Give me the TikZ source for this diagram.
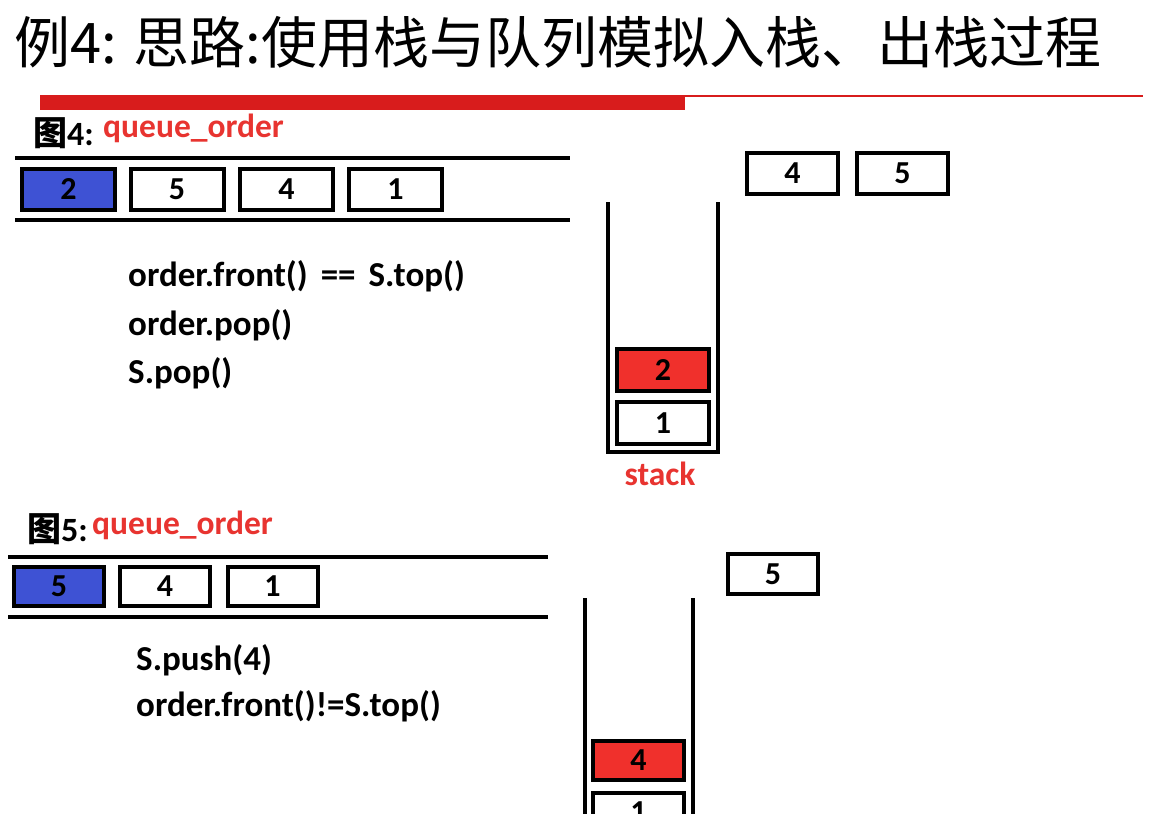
\documentclass[tikz,border=0pt]{standalone}
\usepackage{fontspec}
\setmainfont{Carlito}
\newfontfamily\cjk{Noto Sans CJK SC}
\definecolor{qblue}{RGB}{62,82,212}
\definecolor{sred}{RGB}{240,48,44}
\definecolor{tred}{RGB}{232,52,48}
\definecolor{barred}{RGB}{216,28,28}
\begin{document}
\begin{tikzpicture}[x=1pt,y=-1pt,
  wall/.style={line width=4pt},
  cell/.style={draw=black, line width=4pt, fill=white, inner sep=0pt,
    minimum width=93pt, minimum height=41pt,
    font=\fontsize{32}{32}\selectfont\bfseries},
  qfront/.style={cell, fill=qblue},
  stop/.style={cell, fill=sred},
  code/.style={anchor=base west, inner sep=0pt, font=\fontsize{35}{35}\selectfont\bfseries},
  lbl/.style={anchor=base west, inner sep=0pt, font=\fontsize{34}{34}\selectfont\bfseries},
  rlbl/.style={anchor=base west, inner sep=0pt, text=tred, font=\fontsize{33.5}{33.5}\selectfont\bfseries}
]
\useasboundingbox (0,0) rectangle (1157,814);
\clip (0,0) rectangle (1157,814);
\fill[white] (0,0) rectangle (1157,814);

% title
\node[anchor=base west, inner sep=0pt, font=\cjk\fontsize{56}{56}\selectfont] (title) at (14,63) {例4: 思路:使用栈与队列模拟入栈、出栈过程};
\fill[barred] (40,95) rectangle (685,110);
\draw[barred, line width=1.5pt] (685,96) -- (1143,96);

% ---------- Figure 4 ----------
\node[lbl] (f4) at (33,145) {\cjk 图\normalfont\bfseries 4:};
\node[rlbl] (q4) at (103,137) {queue\_order};
\draw[wall] (15,158) -- (570,158);
\draw[wall] (15,220) -- (570,220);
\node[qfront] (a1) at (68.5,189.5) {2};
\node[cell] (a2) at (177,189.5) {5};
\node[cell] (a3) at (286.5,189.5) {4};
\node[cell] (a4) at (395.5,189.5) {1};

\node[code] (c1) at (128,286) {order.front()\hspace{13pt}==\hspace{13pt}S.top()};
\node[code] (c2) at (128,335) {order.pop()};
\node[code] (c3) at (128,383) {S.pop()};

\draw[wall] (608,202) -- (608,452) -- (718,452) -- (718,202);
\node[stop, minimum width=92pt, minimum height=42pt] (s2) at (663,370) {2};
\node[cell, minimum width=92pt, minimum height=42pt] (s1) at (663,423) {1};
\node[rlbl, anchor=base] (st) at (660,485) {stack};

\node[cell, minimum width=91pt] (w4) at (792.5,173.5) {4};
\node[cell, minimum width=91pt] (w5) at (902.5,173.5) {5};

% ---------- Figure 5 ----------
\node[lbl] (f5) at (27,541) {\cjk 图\normalfont\bfseries 5:};
\node[rlbl] (q5) at (92,534) {queue\_order};
\draw[wall] (8,557) -- (548,557);
\draw[wall] (8,617) -- (548,617);
\node[qfront, minimum width=90pt, minimum height=39pt] (b1) at (59,586.5) {5};
\node[cell, minimum width=90pt, minimum height=39pt] (b2) at (165,586.5) {4};
\node[cell, minimum width=90pt, minimum height=39pt] (b3) at (272.5,586.5) {1};

\node[code] (d1) at (136,670) {S.push(4)};
\node[code] (d2) at (136,716) {order.front()!=S.top()};

\draw[wall] (585,598) -- (585,830);
\draw[wall] (693,598) -- (693,830);
\node[stop, minimum width=91pt, minimum height=39pt] (t4) at (638.5,760.5) {4};
\node[cell, minimum width=91pt, minimum height=39pt] (t1) at (638.5,812.5) {1};

\node[cell, minimum width=90pt, minimum height=40pt] (v5) at (773,574) {5};
\end{tikzpicture}
\end{document}
